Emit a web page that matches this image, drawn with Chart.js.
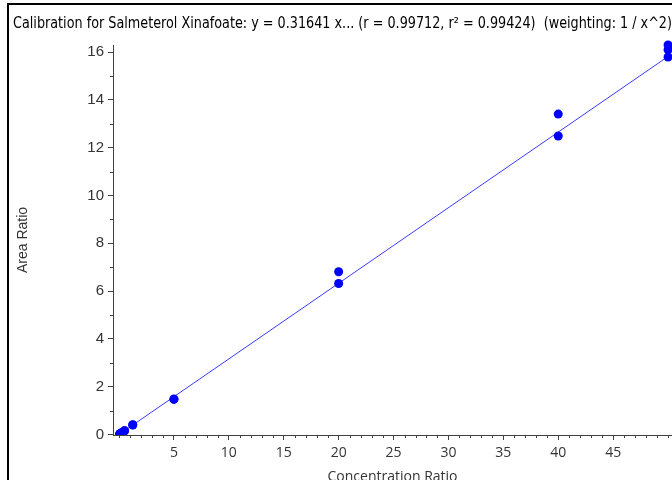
<!DOCTYPE html>
<html>
<head>
<meta charset="utf-8">
<script src="https://cdn.jsdelivr.net/npm/chart.js@4.4.1/dist/chart.umd.min.js"></script>
<style>
  html, body { margin: 0; padding: 0; background: #fff; overflow: hidden; }
  #wrap { position: relative; width: 672px; height: 480px; }
  #frame { position: absolute; left: 7px; top: 3px; right: -10px; bottom: -10px;
           border-left: 2px solid #000; border-top: 2px solid #000; pointer-events: none; }
</style>
</head>
<body>
<div id="wrap">
  <canvas id="calChart" width="672" height="480"></canvas>
  <div id="frame"></div>
</div>
<script>
// calibration standards (replicates)
const concentration = [0.05, 0.05, 0.1, 0.1, 0.25, 0.25, 0.5, 0.5, 1.25, 1.25, 5, 5, 20, 20, 40, 40, 50, 50, 50];
const areaRatio = [0.015, 0.017, 0.03, 0.033, 0.08, 0.077, 0.16, 0.155, 0.41, 0.40, 1.47, 1.49, 6.32, 6.81, 12.49, 13.41, 16.3, 16.1, 15.8];
// regression line y = 0.31641 x
const fitX = [0.05, 50];
const fitY = [0.0158, 15.82];
const xTicks = [5, 10, 15, 20, 25, 30, 35, 40, 45];
const yTicks = [0, 2, 4, 6, 8, 10, 12, 14, 16];
const xMinor = [0, 1, 2, 3, 4, 6, 7, 8, 9, 11, 12, 13, 14, 16, 17, 18, 19, 21, 22, 23, 24, 26, 27, 28, 29,
  31, 32, 33, 34, 36, 37, 38, 39, 41, 42, 43, 44, 46, 47, 48, 49, 50];
const yMinor = [1, 3, 5, 7, 9, 11, 13, 15];

const axisColor = '#404040';
const titleText = 'Calibration for Salmeterol Xinafoate: y = 0.31641 x... (r = 0.99712, r\u00B2 = 0.99424)  (weighting: 1 / x^2)';

// short ticks between the labelled ones
const minorTicks = {
  id: 'minorTicks',
  afterDraw(chart) {
    const {ctx, chartArea, scales} = chart;
    ctx.save();
    ctx.strokeStyle = axisColor;
    ctx.lineWidth = 1;
    ctx.beginPath();
    xMinor.forEach(v => {
      const px = Math.round(scales.x.getPixelForValue(v)) + 0.5;
      ctx.moveTo(px, chartArea.bottom);
      ctx.lineTo(px, chartArea.bottom + 3);
    });
    yMinor.forEach(v => {
      const py = Math.round(scales.y.getPixelForValue(v)) + 0.5;
      ctx.moveTo(chartArea.left, py);
      ctx.lineTo(chartArea.left - 3, py);
    });
    ctx.stroke();
    ctx.restore();
  }
};

const points = concentration.map((c, i) => ({x: c, y: areaRatio[i]}));
const fitLine = fitX.map((c, i) => ({x: c, y: fitY[i]}));

new Chart(document.getElementById('calChart'), {
  type: 'scatter',
  data: {
    datasets: [
      {
        label: 'Standards',
        data: points,
        backgroundColor: '#0000ff',
        borderColor: '#0000ff',
        pointRadius: 4.5,
        pointBorderWidth: 0,
        clip: { left: 0, top: 6, right: 6, bottom: 0 },
        order: 0
      },
      {
        label: 'Fit',
        type: 'line',
        data: fitLine,
        borderColor: '#3a3aff',
        borderWidth: 1,
        pointRadius: 0,
        fill: false,
        order: 1
      }
    ]
  },
  options: {
    responsive: false,
    animation: false,
    devicePixelRatio: 1,
    layout: { autoPadding: false, padding: { left: 13, top: 15, right: 0, bottom: 0 } },
    plugins: {
      legend: { display: false },
      tooltip: { enabled: false },
      title: {
        display: true,
        text: titleText,
        align: 'start',
        color: '#000',
        font: { family: "'Liberation Sans Narrow', 'DejaVu Sans Condensed', sans-serif", size: 15, weight: 'normal', lineHeight: 1.2 },
        padding: { top: 0, bottom: 12 }
      }
    },
    scales: {
      x: {
        type: 'linear',
        min: -0.55,
        max: 50.36,
        afterBuildTicks: scale => { scale.ticks = xTicks.map(v => ({value: v})); },
        afterFit: scale => { scale.height = 45; },
        grid: { drawOnChartArea: false, tickLength: 5, color: axisColor },
        border: { color: axisColor, width: 1 },
        ticks: { color: '#333', padding: 5, maxRotation: 0, font: { family: "'Open Sans', sans-serif", size: 14 } },
        title: {
          display: true,
          text: 'Concentration Ratio',
          color: '#333',
          padding: 0,
          font: { family: "'Open Sans', sans-serif", size: 14, lineHeight: 0.45 }
        }
      },
      y: {
        type: 'linear',
        min: -0.02,
        max: 16.3,
        afterBuildTicks: scale => { scale.ticks = yTicks.map(v => ({value: v})); },
        afterFit: scale => { scale.width = 100; },
        grid: { drawOnChartArea: false, tickLength: 5, color: axisColor },
        border: { color: axisColor, width: 1 },
        ticks: { color: '#333', padding: 4, font: { family: "'Liberation Sans', Arial, sans-serif", size: 15 } },
        title: {
          display: true,
          text: 'Area Ratio',
          color: '#333',
          padding: { top: 2, bottom: 0 },
          font: { family: "'Liberation Sans', Arial, sans-serif", size: 14, lineHeight: 1.2 }
        }
      }
    }
  },
  plugins: [minorTicks]
});
</script>
</body>
</html>
